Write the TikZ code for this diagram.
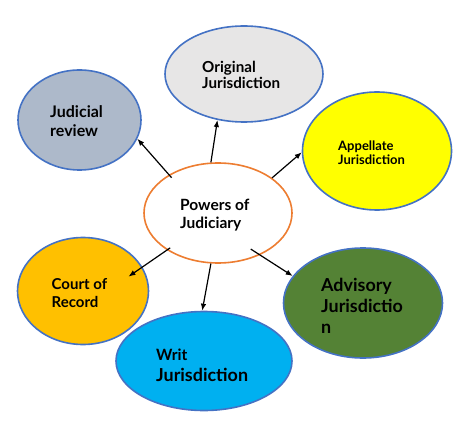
\documentclass[tikz,border=0pt]{standalone}
\usepackage{fontspec}
\setmainfont{Lato}
\usetikzlibrary{shapes.geometric,arrows.meta}
\definecolor{outl}{HTML}{4472C4}
\definecolor{orng}{HTML}{ED7D31}
\definecolor{cOrig}{HTML}{E7E6E6}
\definecolor{cJud}{HTML}{ADB9CA}
\definecolor{cApp}{HTML}{FFFF00}
\definecolor{cCourt}{HTML}{FFC000}
\definecolor{cWrit}{HTML}{00B0F0}
\definecolor{cAdv}{HTML}{548235}
\tikzset{
  bub/.style={ellipse, draw=outl, line width=1.6pt, inner sep=0pt},
  lbl/.style={anchor=west, inner sep=0pt, align=left, font=\bfseries},
  arr/.style={-{Latex[length=7pt,width=5.5pt]}, line width=1.2pt, black},
}
\begin{document}
\begin{tikzpicture}[x=1pt,y=-1pt]
\useasboundingbox (0,0) rectangle (473,430);
\node[bub, fill=cOrig, minimum width=158pt, minimum height=96pt] (o) at (244,74) {};
\node[bub, fill=cJud, minimum width=123pt, minimum height=100pt] (j) at (79.5,120) {};
\node[bub, fill=cApp, minimum width=149pt, minimum height=118pt] (a) at (377,151) {};
\node[ellipse, draw=orng, line width=1.6pt, fill=white, inner sep=0pt, minimum width=148pt, minimum height=100pt] (p) at (218,213) {};
\node[bub, fill=cCourt, minimum width=131pt, minimum height=107pt] (c) at (83,291) {};
\node[bub, fill=cWrit, minimum width=176pt, minimum height=99pt] (w) at (204,361) {};
\node[bub, fill=cAdv, minimum width=159pt, minimum height=110pt] (v) at (363,303) {};

\node[lbl, font=\fontsize{15.2}{16.7}\selectfont\bfseries] (to) at (202,75) {Original\\Jurisdiction};
\node[lbl, font=\fontsize{16}{19}\selectfont\bfseries] (tj) at (50,121) {Judicial\\review};
\node[lbl, font=\fontsize{13}{14.3}\selectfont\bfseries] (ta) at (338,153) {Appellate\\Jurisdiction};
\node[lbl, font=\fontsize{15.5}{17.6}\selectfont\bfseries] (tp) at (180,215) {Powers of\\Judiciary};
\node[lbl, font=\fontsize{15}{18.4}\selectfont\bfseries] (tc) at (51.5,293) {Court of\\Record};
\node[lbl, font=\fontsize{15.6}{20.7}\selectfont\bfseries] (tw) at (156,365) {Writ\\\fontsize{17.9}{20.7}\selectfont Jurisdiction};
\node[lbl, font=\fontsize{17.9}{20.8}\selectfont\bfseries] (tv) at (321,306) {Advisory\\Jurisdictio\\n};

\draw[arr, shorten <=-4pt] (p.142) -- (j.-18);
\draw[arr] (p.98) -- (o.-120.4);
\draw[arr] (p.33.4) -- (a.181);
\draw[arr, shorten <=-4pt, shorten >=-17pt] (p.216.9) -- (c.22);
\draw[arr] (p.-98) -- (w.92);
\draw[arr, shorten <=-11pt] (p.-45) -- (v.159);
\end{tikzpicture}
\end{document}
